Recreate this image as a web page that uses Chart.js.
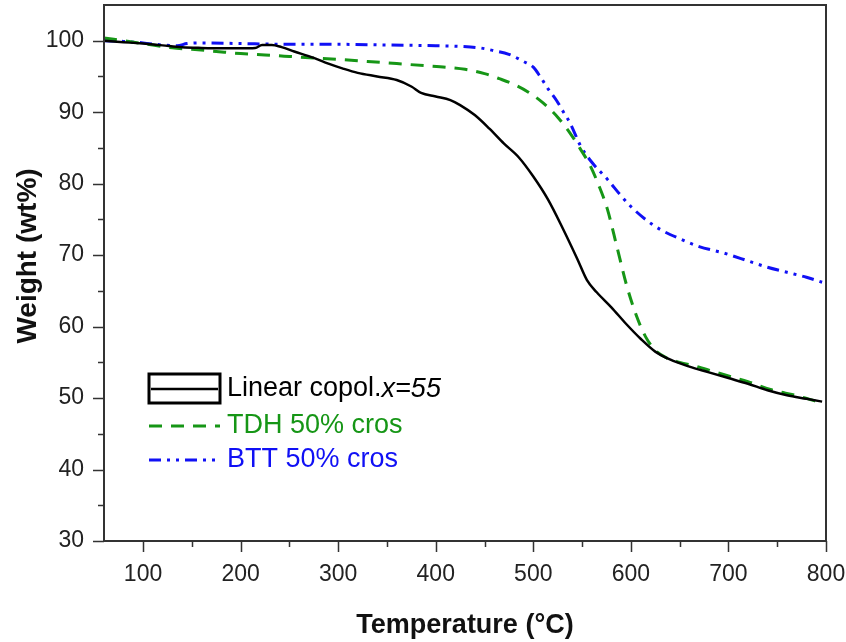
<!DOCTYPE html>
<html>
<head>
<meta charset="utf-8">
<script src="https://cdn.jsdelivr.net/npm/chart.js@4.4.1/dist/chart.umd.min.js"></script>
<style>
  html, body { margin: 0; padding: 0; background: #fff; }
  #wrap { width: 846px; height: 642px; position: relative; }
</style>
</head>
<body>
<div id="wrap"><canvas id="tga"></canvas></div>
<script>
// TGA curves
const linearTemp = [60, 80, 100, 120, 140, 160, 180, 200, 215, 222, 232, 242, 255, 275, 290, 305, 320, 340, 360, 375, 385, 400, 415, 425, 440, 455, 470, 485, 500, 515, 530, 545, 555, 565, 580, 595, 610, 625, 640, 660, 680, 700, 720, 740, 760, 780, 796];
const linearWeight = [100, 99.8, 99.6, 99.35, 99.1, 99.0, 98.95, 98.95, 99.0, 99.4, 99.4, 99.1, 98.5, 97.6, 96.8, 96.1, 95.5, 95.0, 94.5, 93.6, 92.7, 92.2, 91.7, 91.0, 89.6, 87.7, 85.6, 83.7, 81.0, 77.8, 73.8, 69.5, 66.5, 64.8, 62.7, 60.4, 58.3, 56.5, 55.4, 54.4, 53.6, 52.8, 52.0, 51.1, 50.4, 49.9, 49.5];

const tdhTemp = [60, 70, 100, 130, 150, 175, 200, 225, 250, 275, 300, 330, 360, 390, 410, 430, 450, 465, 480, 495, 510, 525, 538, 548, 558, 567, 576, 586, 596, 606, 615, 625, 637, 650, 668, 685, 700, 720, 743, 771, 796];
const tdhWeight = [100.4, 100.2, 99.6, 99.0, 98.8, 98.5, 98.2, 98.0, 97.8, 97.6, 97.4, 97.1, 96.8, 96.5, 96.3, 96.0, 95.4, 94.7, 93.9, 92.8, 91.3, 89.3, 87.0, 84.9, 82.6, 79.8, 76.4, 71.0, 65.6, 61.4, 58.6, 56.7, 55.6, 55.0, 54.4, 53.7, 53.1, 52.3, 51.2, 50.3, 49.3];

const bttTemp = [60, 80, 100, 120, 135, 145, 160, 200, 250, 300, 350, 400, 425, 445, 460, 475, 490, 500, 507, 515, 524, 531, 538, 548, 560, 576, 590, 600, 615, 630, 650, 670, 695, 720, 740, 760, 780, 796];
const bttWeight = [100.0, 99.9, 99.7, 99.4, 99.3, 99.6, 99.7, 99.6, 99.5, 99.5, 99.4, 99.3, 99.2, 99.0, 98.6, 98.1, 97.1, 96.3, 95.0, 93.3, 91.6, 90.0, 88.4, 85.4, 83.0, 80.6, 78.3, 76.8, 75.0, 73.6, 72.3, 71.2, 70.3, 69.2, 68.3, 67.6, 66.9, 66.2];

const xTicks = [100, 200, 300, 400, 500, 600, 700, 800];
const xMinorTicks = [150, 250, 350, 450, 550, 650, 750];
const yTicks = [30, 40, 50, 60, 70, 80, 90, 100];
const yMinorTicks = [35, 45, 55, 65, 75, 85, 95];

const seriesNames = ['Linear copol.', 'TDH 50% cros', 'BTT 50% cros'];
const seriesColors = ['#000000', '#169616', '#1010f5'];
const yTitle = 'Weight (wt%)';

function toPoints(xs, ys) {
    return xs.map((x, i) => ({ x: x, y: ys[i] }));
}

const axisColor = '#333333';

// tick marks, frame, y title and legend drawn with the chart's own scales
const framePlugin = {
    id: 'frame',
    afterDraw(chart) {
        const ctx = chart.ctx;
        const xs = chart.scales.x;
        const ys = chart.scales.y;
        const area = chart.chartArea;
        ctx.save();
        ctx.strokeStyle = axisColor;
        ctx.lineWidth = 2;
        ctx.beginPath();
        ctx.moveTo(area.left, area.bottom);
        ctx.lineTo(area.left, area.top);
        ctx.lineTo(area.right, area.top);
        ctx.lineTo(area.right, area.bottom);
        ctx.lineTo(area.left, area.bottom);
        ctx.stroke();

        ctx.lineWidth = 1.5;
        ctx.beginPath();
        xTicks.forEach(v => {
            const px = Math.round(xs.getPixelForValue(v)) + 0.5;
            ctx.moveTo(px, area.bottom);
            ctx.lineTo(px, area.bottom + 11);
        });
        xMinorTicks.forEach(v => {
            const px = Math.round(xs.getPixelForValue(v)) + 0.5;
            ctx.moveTo(px, area.bottom);
            ctx.lineTo(px, area.bottom + 6);
        });
        yTicks.forEach(v => {
            const py = Math.round(ys.getPixelForValue(v)) + 0.5;
            ctx.moveTo(area.left, py);
            ctx.lineTo(area.left - 11, py);
        });
        yMinorTicks.forEach(v => {
            const py = Math.round(ys.getPixelForValue(v)) + 0.5;
            ctx.moveTo(area.left, py);
            ctx.lineTo(area.left - 6, py);
        });
        ctx.stroke();

        // y axis title
        ctx.save();
        ctx.translate(28, 256);
        ctx.rotate(-Math.PI / 2);
        ctx.font = 'bold 28px "Liberation Sans", Arial, sans-serif';
        ctx.fillStyle = '#111';
        ctx.textAlign = 'center';
        ctx.textBaseline = 'middle';
        ctx.fillText(yTitle, 0, 0);
        ctx.restore();

        // legend
        const lx0 = 149, lx1 = 220;
        const rows = [389, 426, 460];
        const dashes = [[], [13, 9], [12, 6, 3, 6, 3, 6]];
        const widths = [2.5, 3, 3];
        ctx.lineWidth = 3;
        ctx.strokeStyle = '#000';
        ctx.strokeRect(149, 374, 71, 29);
        rows.forEach((ry, i) => {
            ctx.beginPath();
            ctx.setLineDash(dashes[i]);
            ctx.lineWidth = widths[i];
            ctx.strokeStyle = seriesColors[i];
            ctx.moveTo(i === 0 ? lx0 + 2 : lx0, ry);
            ctx.lineTo(i === 0 ? lx1 - 2 : lx1, ry);
            ctx.stroke();
        });
        ctx.setLineDash([]);
        ctx.textBaseline = 'middle';
        ctx.textAlign = 'left';
        ctx.font = '27px "Liberation Sans", Arial, sans-serif';
        ctx.fillStyle = seriesColors[0];
        ctx.fillText(seriesNames[0], 227, rows[0]);
        const w0 = ctx.measureText(seriesNames[0]).width;
        ctx.font = 'italic 27px "Liberation Sans", Arial, sans-serif';
        ctx.fillText('x=55', 227 + w0, rows[0]);
        ctx.font = '27px "Liberation Sans", Arial, sans-serif';
        ctx.fillStyle = seriesColors[1];
        ctx.fillText(seriesNames[1], 227, rows[1]);
        ctx.fillStyle = seriesColors[2];
        ctx.fillText(seriesNames[2], 227, rows[2]);
        ctx.restore();
    }
};

const ctx = document.getElementById('tga').getContext('2d');
const tgaChart = new Chart(ctx, {
    type: 'line',
    data: {
        datasets: [
            {
                label: seriesNames[0] + 'x=55',
                data: toPoints(linearTemp, linearWeight),
                borderColor: seriesColors[0],
                borderWidth: 2.5,
                pointRadius: 0,
                cubicInterpolationMode: 'monotone'
            },
            {
                label: seriesNames[1],
                data: toPoints(tdhTemp, tdhWeight),
                borderColor: seriesColors[1],
                borderWidth: 3,
                borderDash: [13, 9],
                pointRadius: 0,
                cubicInterpolationMode: 'monotone'
            },
            {
                label: seriesNames[2],
                data: toPoints(bttTemp, bttWeight),
                borderColor: seriesColors[2],
                borderWidth: 3,
                borderDash: [12, 6, 3, 6, 3, 6],
                pointRadius: 0,
                cubicInterpolationMode: 'monotone'
            }
        ]
    },
    options: {
        responsive: true,
        maintainAspectRatio: false,
        animation: false,
        layout: { padding: { top: 5, right: 20, left: 0, bottom: 0 } },
        plugins: {
            legend: { display: false },
            tooltip: { enabled: false }
        },
        scales: {
            x: {
                type: 'linear',
                min: 60,
                max: 800,
                afterBuildTicks: scale => { scale.ticks = xTicks.map(v => ({ value: v })); },
                afterFit: scale => {
                    scale.height = 101;
                    scale.paddingLeft = 0;
                    scale.paddingRight = 0;
                },
                grid: { display: false, drawTicks: false },
                border: { display: false },
                ticks: {
                    padding: 20,
                    color: '#222',
                    font: { family: '"Liberation Sans", Arial, sans-serif', size: 23 },
                    maxRotation: 0
                },
                title: {
                    display: true,
                    text: 'Temperature (°C)',
                    color: '#111',
                    font: { family: '"Liberation Sans", Arial, sans-serif', size: 27, weight: 'bold' },
                    padding: { top: 4, bottom: 0 }
                }
            },
            y: {
                min: 30,
                max: 105,
                afterBuildTicks: scale => { scale.ticks = yTicks.map(v => ({ value: v })); },
                afterFit: scale => {
                    scale.width = 104;
                    scale.paddingTop = 0;
                    scale.paddingBottom = 0;
                },
                grid: { display: false, drawTicks: false },
                border: { display: false },
                ticks: {
                    padding: 20,
                    color: '#222',
                    font: { family: '"Liberation Sans", Arial, sans-serif', size: 23 }
                },
                title: { display: false }
            }
        }
    },
    plugins: [framePlugin]
});
</script>
</body>
</html>
